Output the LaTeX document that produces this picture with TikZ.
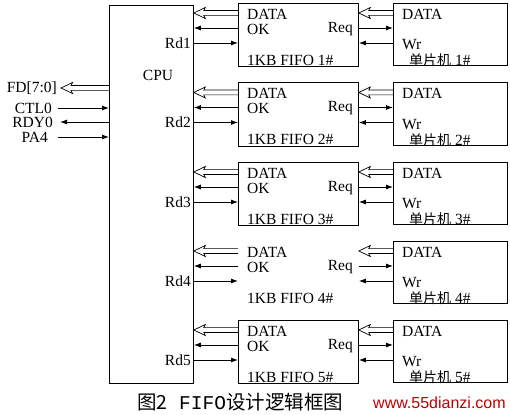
\documentclass[tikz,border=0pt]{standalone}
\usepackage{fontspec}
\setmainfont{Liberation Serif}
\newfontfamily\cjk{Noto Sans CJK SC}
\newfontfamily\capfont{Liberation Mono}
\newfontfamily\wmfont{Liberation Sans}
\usetikzlibrary{arrows.meta,calc}
\newcommand\hollowarrow[2]{%
  \draw[line width=0.7pt,line join=miter] let \p1=#1, \p2=#2, \n1={sign(\x2-\x1)} in
    (\x1,{\y1+2.4pt}) -- ({\x2-\n1*10pt},{\y1+2.4pt}) -- ({\x2-\n1*11.5pt},{\y1+5.5pt}) -- (\x2,\y1)
    -- ({\x2-\n1*11.5pt},{\y1-5.5pt}) -- ({\x2-\n1*10pt},{\y1-2.4pt}) -- (\x1,{\y1-2.4pt});}
\begin{document}
\begin{tikzpicture}[x=1pt,y=-1pt,
  box/.style={draw,line width=0.8pt,minimum width=120pt,minimum height=63pt,inner sep=0pt,anchor=north west},
  mbox/.style={draw,line width=0.8pt,minimum width=114pt,minimum height=62pt,inner sep=0pt,anchor=north west},
  lbl/.style={font=\fontsize{15.5}{17}\selectfont,inner sep=0pt},
  sarrow/.style={line width=0.9pt,-{Latex[length=7pt,width=5pt]}},
]
\useasboundingbox (0,0) rectangle (510,414);
% CPU
\node[draw,line width=0.8pt,minimum width=84pt,minimum height=378pt,inner sep=0pt,anchor=north west] (cpu) at (109,5) {};
\node[lbl] (cpulbl) at (158,75) {CPU};
% left side signals
\coordinate (yfd) at (0,88);
\coordinate (yctl) at (0,108);
\coordinate (yrdy) at (0,122);
\coordinate (ypa) at (0,137);
\node[lbl,anchor=east] (fd) at (57,88) {FD[7:0]};
\node[lbl,anchor=east] (ctl) at (52,108) {CTL0};
\node[lbl,anchor=east] (rdy) at (53,122) {RDY0};
\node[lbl,anchor=east] (pa) at (48,137) {PA4};
\coordinate (fdend) at (61,88);
\coordinate (ctlst) at (58,108);
\coordinate (rdyend) at (60,122);
\coordinate (past) at (58,137);
\hollowarrow{(cpu.west |- yfd)}{(fdend)}
\draw[sarrow] (ctlst) -- (cpu.west |- yctl);
\draw[sarrow] (cpu.west |- yrdy) -- (rdyend);
\draw[sarrow] (past) -- (cpu.west |- ypa);
% blocks
\foreach \i/\t in {1/3,2/82.5,3/162,4/241,5/320}{
  \ifnum\i=4
    \node[box,draw=none] (f\i) at (238,\t) {};
  \else
    \node[box] (f\i) at (238,\t) {};
  \fi
  \node[mbox] (m\i) at (393,\t) {};
  \coordinate (d\i) at (0,\t+10);
  \coordinate (o\i) at (0,\t+25);
  \coordinate (r\i) at (0,\t+40);
  \node[lbl,anchor=west] (fdata\i) at (247,\t+11) {DATA};
  \node[lbl,anchor=west] (fok\i) at (247,\t+26) {OK};
  \node[lbl,anchor=east] (freq\i) at (353,\t+26) {Req};
  \node[lbl,anchor=west] (fname\i) at (247,\t+57) {1KB FIFO \i\#};
  \node[lbl,anchor=west] (mdata\i) at (402,\t+11) {DATA};
  \node[lbl,anchor=west] (mwr\i) at (402,\t+42) {Wr};
  \node[lbl,anchor=west] (mname\i) at (409,\t+57.5) {{\cjk\fontsize{14}{15}\selectfont 单片机} \i\#};
  \node[lbl,anchor=east] (rd\i) at (191,\t+40) {Rd\i};
  \hollowarrow{(f\i.west |- d\i)}{(cpu.east |- d\i)}
  \draw[sarrow] (f\i.west |- o\i) -- (cpu.east |- o\i);
  \draw[sarrow] (cpu.east |- r\i) -- (f\i.west |- r\i);
  \hollowarrow{(m\i.west |- d\i)}{(f\i.east |- d\i)}
  \draw[sarrow] (f\i.east |- o\i) -- (m\i.west |- o\i);
  \draw[sarrow] (m\i.west |- r\i) -- (f\i.east |- r\i);
}
% caption
\node[anchor=west,inner sep=0pt] (cap) at (137,402) {{\cjk\fontsize{19.5}{22}\selectfont 图2}{\capfont\fontsize{19.5}{22}\selectfont\ FIFO}{\cjk\fontsize{19.5}{22}\selectfont 设计逻辑框图}};
\node[anchor=west,inner sep=0pt,text=red!75!black] (wm) at (373,403) {\wmfont\fontsize{16}{18}\selectfont www.55dianzi.com};
\end{tikzpicture}
\end{document}
